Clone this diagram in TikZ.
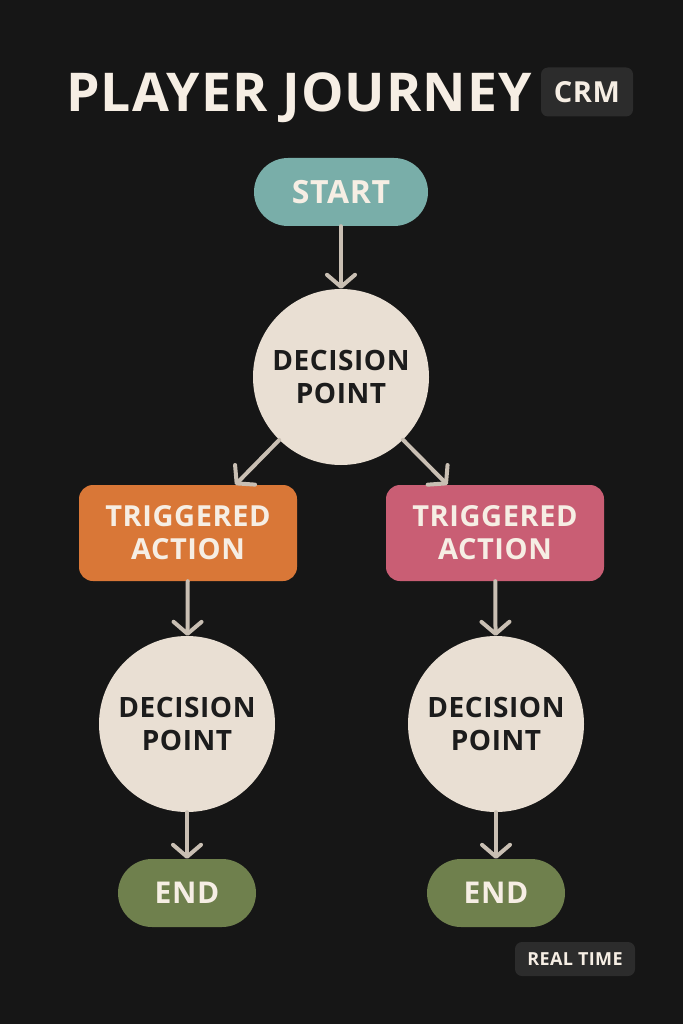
\documentclass[tikz,border=0pt]{standalone}
\usepackage{fontspec}
\setmainfont{Open Sans}[LetterSpace=2]
\usetikzlibrary{arrows.meta}
\definecolor{bgc}{HTML}{161616}
\definecolor{cream}{HTML}{F6EEE4}
\definecolor{ink}{HTML}{1C1C1C}
\definecolor{linkc}{HTML}{C9BFB3}
\definecolor{badgec}{HTML}{2C2C2C}
\definecolor{tealc}{HTML}{79AEA9}
\definecolor{discc}{HTML}{E9DFD3}
\definecolor{orangec}{HTML}{D97737}
\definecolor{pinkc}{HTML}{C95E74}
\definecolor{olivec}{HTML}{6F804D}
\begin{document}
\begin{tikzpicture}[x=1pt,y=-1pt,
    link/.style={draw=linkc,line width=4pt,line cap=round,-{Straight Barb[length=12pt,width=28pt,round]}},
    pill/.style={rounded corners=34pt,minimum width=174pt,minimum height=68pt,text=cream,font=\bfseries\fontsize{30}{30}\selectfont},
    disc/.style={circle,fill=discc,minimum size=176pt,inner sep=0pt,text=ink,align=center,font=\bfseries\fontsize{28}{33}\selectfont},
    actbox/.style={rounded corners=14pt,minimum width=218pt,minimum height=96pt,text=cream,align=center,font=\bfseries\fontsize{29}{33}\selectfont},
    badge/.style={fill=badgec,rounded corners=7pt,text=cream}]
    \fill[bgc] (0,0) rectangle (683,1024);
    \node[text=cream,font=\bfseries\fontsize{53.5}{53.5}\selectfont] (title) at (299,98) {PLAYER JOURNEY};
    \node[badge,minimum width=92pt,minimum height=49pt,font=\bfseries\fontsize{29}{29}\selectfont] (crm) at (587,92) {CRM};
    % main flow
    \node[pill,fill=tealc,font=\bfseries\fontsize{32}{32}\selectfont] (start) at (341,192) {START};
    \node[disc] (dp) at (341,377) {DECISION\\POINT};
    \node[actbox,fill=orangec] (actL) at (188,533) {TRIGGERED\\ACTION};
    \node[actbox,fill=pinkc] (actR) at (495,533) {TRIGGERED\\ACTION};
    \node[disc] (dpL) at (187,724) {DECISION\\POINT};
    \node[disc] (dpR) at (496,724) {DECISION\\POINT};
    \node[pill,fill=olivec,minimum width=138pt] (endL) at (187,893) {END};
    \node[pill,fill=olivec,minimum width=138pt] (endR) at (496,893) {END};
    \node[badge,minimum width=120pt,minimum height=34pt,font=\bfseries\fontsize{18}{18}\selectfont] (rt) at (575,959) {REAL TIME};
    \draw[link] (start) -- (dp);
    \draw[link] (dp) -- (actL);
    \draw[link] (dp) -- (actR);
    \draw[link] (actL) -- (dpL);
    \draw[link] (actR) -- (dpR);
    \draw[link] (dpL) -- (endL);
    \draw[link] (dpR) -- (endR);
\end{tikzpicture}
\end{document}
